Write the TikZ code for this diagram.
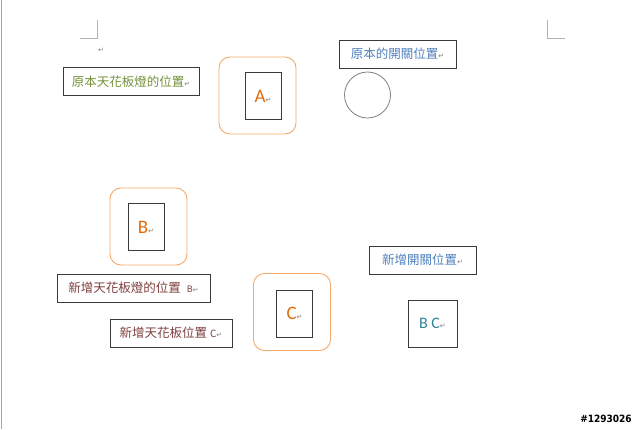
\documentclass[tikz,border=0pt]{standalone}
\usepackage{fontspec}
\setmainfont{Carlito}
\newfontfamily\cjk{Noto Sans CJK TC}
\newfontfamily\sym{DejaVu Sans}
\newfontfamily\wm{DejaVu Sans Condensed}[BoldFont={DejaVu Sans Condensed Bold}]
\definecolor{orng}{HTML}{F5A96B}
\definecolor{orngtxt}{HTML}{E36C0A}
\definecolor{olive}{HTML}{76923C}
\definecolor{blu}{HTML}{4F81BD}
\definecolor{maroon}{HTML}{7F3F3F}
\definecolor{teal}{HTML}{31849B}
\definecolor{frame}{HTML}{3A3A3A}
\newcommand{\ret}{{\sym\fontsize{7}{7}\selectfont\color{gray}↵}}
\tikzset{
  label box/.style={draw=frame, line width=0.9pt, minimum height=28pt, inner sep=0pt, font=\cjk\fontsize{12.5}{13}\selectfont},
  lamp/.style={draw=orng, line width=0.9pt, rounded corners=11pt, minimum width=77pt, minimum height=77pt},
  inner/.style={draw=frame, line width=0.8pt, minimum width=36pt, minimum height=47pt, inner sep=0pt, font=\fontsize{19}{20}\selectfont, text=orngtxt},
  cornermark/.style={draw=gray!60, line width=0.6pt}
}
\begin{document}
\begin{tikzpicture}[x=1pt,y=-1pt]
\useasboundingbox (0,0) rectangle (640,429);
\fill[white] (0,0) rectangle (640,429);
% left page edge
\draw[gray!70, line width=1pt] (1,0) -- (1,429);
% corner marks
\coordinate (tl1) at (97,20); \coordinate (tl2) at (97,38); \coordinate (tl3) at (80,38);
\coordinate (tr1) at (547,20); \coordinate (tr2) at (547,38); \coordinate (tr3) at (565,38);
\draw[cornermark] (tl1) -- (tl2) -- (tl3);
\draw[cornermark] (tr1) -- (tr2) -- (tr3);
\node (para) at (101,50) {\ret};

% original lamp label
\node[label box, minimum width=136pt, text=olive] (origlamp) at (131,81.5) {原本天花板燈的位置\ret};
% lamp A
\node[lamp] (lampA) at (257.5,95.5) {};
\node[inner] (A) at (263,96) {A\ret};
% original switch label
\node[label box, minimum width=117pt, text=blu] (origsw) at (397.5,54) {原本的開關位置\ret};
\node[draw=gray, line width=0.8pt, circle, minimum size=46pt, inner sep=0pt] (sw) at (367.5,95) {};

% lamp B
\node[lamp] (lampB) at (148.5,226.5) {};
\node[inner] (B) at (146,227) {B\ret};
\node[label box, minimum width=153pt, text=maroon] (newB) at (133.5,288) {新增天花板燈的位置\hspace{6pt}{\fontsize{9}{10}\selectfont B}\ret};
\node[label box, minimum width=122pt, text=maroon] (newC) at (171,333) {新增天花板位置 {\fontsize{10}{11}\selectfont C}\ret};

% lamp C
\node[lamp] (lampC) at (292,312) {};
\node[inner] (C) at (294.5,313.5) {C\ret};

% new switch
\node[label box, minimum width=107pt, text=blu] (newsw) at (422.5,260) {新增開關位置\ret};
\node[draw=frame, line width=0.8pt, minimum width=49pt, minimum height=47pt, inner sep=0pt, text=teal, font=\fontsize{16}{17}\selectfont] (BC) at (432.5,323.5) {B C\ret};

% watermark
\node[font=\wm\bfseries\fontsize{10}{11}\selectfont, inner sep=0pt] (wmk) at (606,419) {\#1293026};
\end{tikzpicture}
\end{document}
